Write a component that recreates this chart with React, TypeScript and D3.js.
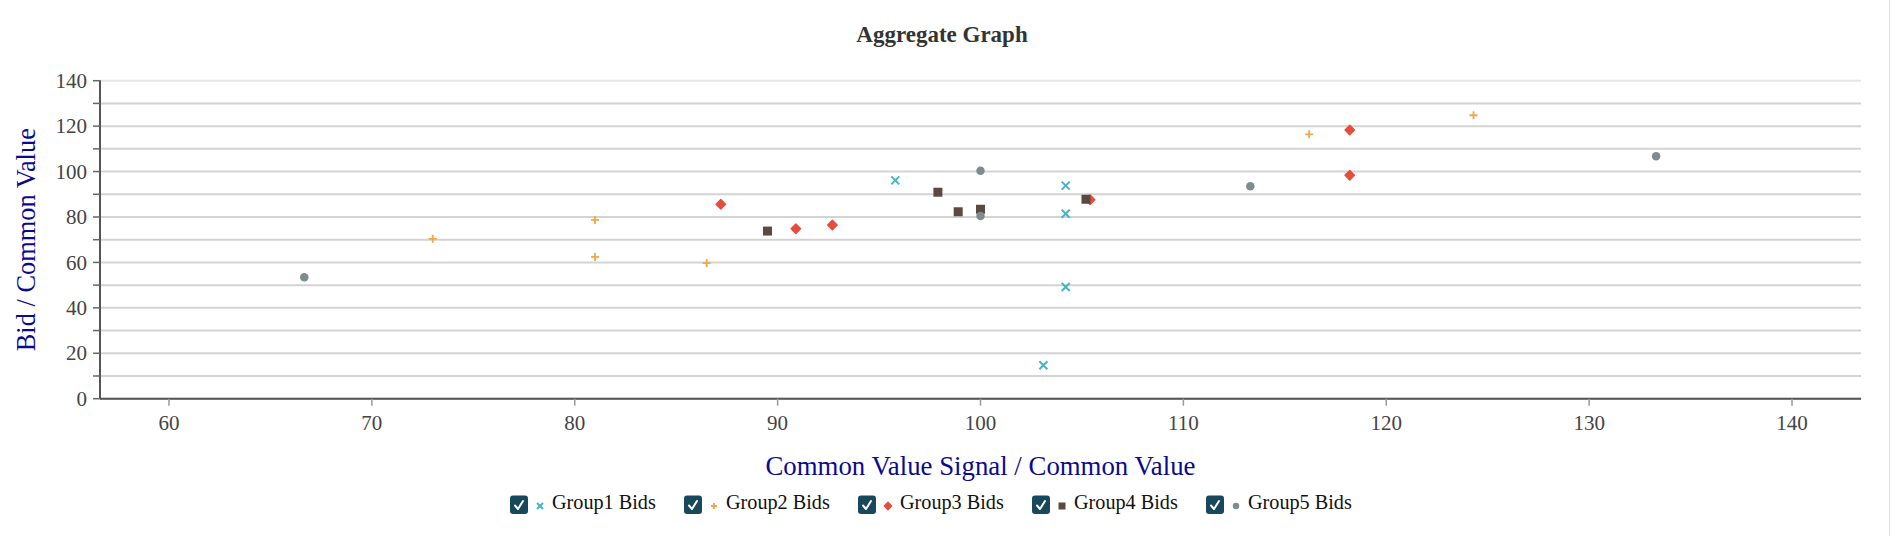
import React from "react";
import * as d3 from "d3";

const chartTitle = "Aggregate Graph";
const xAxisTitle = "Common Value Signal / Common Value";
const yAxisTitle = "Bid / Common Value";

const xTickValues = [60, 70, 80, 90, 100, 110, 120, 130, 140];
const yTickValues = [0, 20, 40, 60, 80, 100, 120, 140];
const yMinorValues = [0, 10, 20, 30, 40, 50, 60, 70, 80, 90, 100, 110, 120, 130, 140];

const seriesNames = ["Group1 Bids", "Group2 Bids", "Group3 Bids", "Group4 Bids", "Group5 Bids"];
const seriesColors = ["#45b3c8", "#f6a544", "#e74c3c", "#5b4943", "#7f8c8d"];
const seriesShapes = ["x", "plus", "diamond", "square", "circle"];

// [signal ratio, bid ratio]
const group1Bids: [number, number][] = [
  [95.8, 96.1], [104.2, 93.8], [104.2, 81.4], [104.2, 49.2], [103.1, 14.7],
];
const group2Bids: [number, number][] = [
  [73.0, 70.4], [81.0, 78.7], [81.0, 62.4], [86.5, 59.7], [116.2, 116.4], [124.3, 124.8],
];
const group3Bids: [number, number][] = [
  [87.2, 85.6], [90.9, 74.8], [92.7, 76.5], [105.4, 87.6], [118.2, 118.3], [118.2, 98.4],
];
const group4Bids: [number, number][] = [
  [89.5, 73.8], [97.9, 90.9], [98.9, 82.3], [100.0, 83.4], [105.2, 87.8],
];
const group5Bids: [number, number][] = [
  [66.67, 53.5], [100.0, 100.4], [100.0, 80.4], [113.3, 93.5], [133.3, 106.7],
];
const allSeries = [group1Bids, group2Bids, group3Bids, group4Bids, group5Bids];

const W = 1892;
const H = 536;
const plotLeft = 100;
const plotRight = 1861;
const plotTop = 80.7;
const plotBottom = 398.7;

const x = d3.scaleLinear().domain([56.6, 143.4]).range([plotLeft, plotRight]);
const y = d3.scaleLinear().domain([0, 140]).range([plotBottom, plotTop]);

function Marker({ shape, color, cx, cy, s }: { shape: string; color: string; cx: number; cy: number; s: number }) {
  const h = s / 2;
  if (shape === "x") {
    const p = d3.path();
    p.moveTo(cx - h, cy - h); p.lineTo(cx + h, cy + h);
    p.moveTo(cx - h, cy + h); p.lineTo(cx + h, cy - h);
    return <path d={p.toString()} stroke={color} strokeWidth={2} fill="none" />;
  }
  if (shape === "plus") {
    const p = d3.path();
    p.moveTo(cx - h, cy); p.lineTo(cx + h, cy);
    p.moveTo(cx, cy - h); p.lineTo(cx, cy + h);
    return <path d={p.toString()} stroke={color} strokeWidth={1.8} fill="none" />;
  }
  if (shape === "diamond") {
    const sym = d3.symbol().type(d3.symbolSquare).size((s * 0.74) * (s * 0.74))();
    return (
      <path d={sym || ""} transform={`translate(${cx},${cy}) rotate(45)`} fill={color}
        stroke={color} strokeWidth={1.4} strokeLinejoin="round" />
    );
  }
  if (shape === "square") {
    const sym = d3.symbol().type(d3.symbolSquare).size(s * s)();
    return <path d={sym || ""} transform={`translate(${cx},${cy})`} fill={color} />;
  }
  const sym = d3.symbol().type(d3.symbolCircle).size(Math.PI * (s / 2) * (s / 2))();
  return <path d={sym || ""} transform={`translate(${cx},${cy})`} fill={color} />;
}

const markerSize = [8, 8, 9, 9, 8.5];
const legendMarkerSize = [6, 6, 7, 7, 6.5];

export default function App() {
  const serif = "'Liberation Serif', 'Times New Roman', serif";
  const legendStart = 510;
  const legendStep = 174;
  const legendY = 505;
  return (
    <svg width={W} height={H} style={{ position: "absolute", left: 0, top: 0, background: "#fff" }}
      fontFamily={serif}>
      <line x1={1889.5} x2={1889.5} y1={0} y2={H} stroke="#dcdcdc" strokeWidth={1} />
      <text x={942} y={42} textAnchor="middle" fontSize={23} fontWeight="bold" fill="#333">
        {chartTitle}
      </text>

      {/* grid */}
      <g>
        {yMinorValues.map((v) => (
          <line key={v} x1={plotLeft} x2={plotRight} y1={y(v)} y2={y(v)}
            stroke={v === 140 ? "#e6e6e6" : "#d3d3d3"} strokeWidth={2} />
        ))}
      </g>

      {/* y axis */}
      <g>
        <line x1={plotLeft} x2={plotLeft} y1={plotTop - 0.5} y2={plotBottom} stroke="#555" strokeWidth={2} />
        {yMinorValues.map((v) => (
          <line key={v} x1={plotLeft - 7} x2={plotLeft} y1={y(v)} y2={y(v)} stroke="#666" strokeWidth={1.5} />
        ))}
        {yTickValues.map((v) => (
          <text key={v} x={plotLeft - 13} y={y(v)} dy="0.34em" textAnchor="end" fontSize={21} fill="#444">
            {v}
          </text>
        ))}
      </g>

      {/* x axis */}
      <g>
        <line x1={plotLeft} x2={plotRight} y1={plotBottom} y2={plotBottom} stroke="#555" strokeWidth={2} />
        {xTickValues.map((v) => (
          <g key={v}>
            <line x1={x(v)} x2={x(v)} y1={plotBottom} y2={plotBottom + 7} stroke="#999" strokeWidth={1.5} />
            <text x={x(v)} y={430} textAnchor="middle" fontSize={21} fill="#444">
              {v}
            </text>
          </g>
        ))}
      </g>

      <text x={(plotLeft + plotRight) / 2} y={475} textAnchor="middle" fontSize={26.8} fill="#0a0a8f">
        {xAxisTitle}
      </text>
      <text transform={`translate(35,${(plotTop + plotBottom) / 2}) rotate(-90)`} textAnchor="middle"
        fontSize={26.4} fill="#0a0a8f">
        {yAxisTitle}
      </text>

      {/* points */}
      <g>
        {allSeries.map((pts, i) =>
          pts.map((d, j) => (
            <Marker key={`${i}-${j}`} shape={seriesShapes[i]} color={seriesColors[i]}
              cx={x(d[0])} cy={y(d[1])} s={markerSize[i]} />
          ))
        )}
      </g>

      {/* legend */}
      <g>
        {seriesNames.map((name, i) => {
          const bx = legendStart + i * legendStep;
          return (
            <g key={name}>
              <rect x={bx} y={legendY - 9.5} width={18} height={18.5} rx={3} fill="#17485c" />
              <path d={`M${bx + 5} ${legendY + 0.5} L${bx + 8} ${legendY + 4} L${bx + 13} ${legendY - 4}`}
                stroke="#fff" strokeWidth={2} fill="none" strokeLinecap="round" strokeLinejoin="round" />
              <Marker shape={seriesShapes[i]} color={seriesColors[i]} cx={bx + 30} cy={legendY + 1}
                s={legendMarkerSize[i]} />
              <text x={bx + 42} y={legendY + 4} fontSize={20.2} fill="#111">
                {name}
              </text>
            </g>
          );
        })}
      </g>
    </svg>
  );
}
